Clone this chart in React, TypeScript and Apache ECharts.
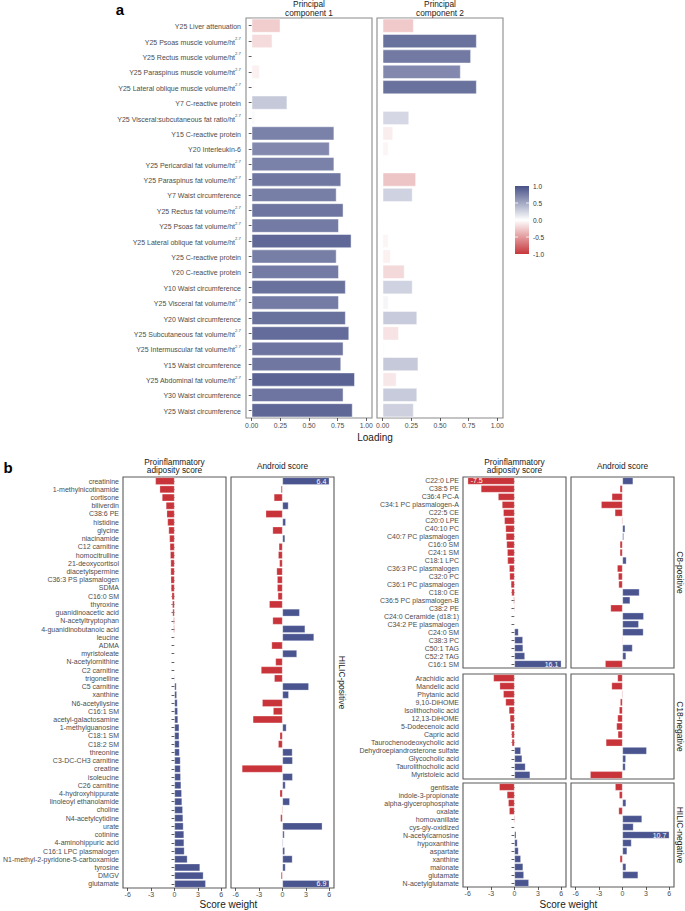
import React, { useEffect, useRef } from "react";
import * as echarts from "echarts";

// ---------- Panel a data ----------
const pcCategories = [
  "Y25 Liver attenuation",
  "Y25 Psoas muscle volume/ht^2.7",
  "Y25 Rectus muscle volume/ht^2.7",
  "Y25 Paraspinus muscle volume/ht^2.7",
  "Y25 Lateral oblique muscle volume/ht^2.7",
  "Y7 C-reactive protein",
  "Y25 Visceral:subcutaneous fat ratio/ht^2.7",
  "Y15 C-reactive protein",
  "Y20 Interleukin-6",
  "Y25 Pericardial fat volume/ht^2.7",
  "Y25 Paraspinus fat volume/ht^2.7",
  "Y7 Waist circumference",
  "Y25 Rectus fat volume/ht^2.7",
  "Y25 Psoas fat volume/ht^2.7",
  "Y25 Lateral oblique fat volume/ht^2.7",
  "Y25 C-reactive protein",
  "Y20 C-reactive protein",
  "Y10 Waist circumference",
  "Y25 Visceral fat volume/ht^2.7",
  "Y20 Waist circumference",
  "Y25 Subcutaneous fat volume/ht^2.7",
  "Y25 Intermuscular fat volume/ht^2.7",
  "Y15 Waist circumference",
  "Y25 Abdominal fat volume/ht^2.7",
  "Y30 Waist circumference",
  "Y25 Waist circumference",
];
const pc1Loadings = [-0.25, -0.18, -0.01, -0.07, -0.02, 0.31, 0.03, 0.72, 0.68, 0.72, 0.78, 0.74, 0.8, 0.76, 0.87, 0.74, 0.76, 0.82, 0.76, 0.82, 0.85, 0.8, 0.78, 0.9, 0.8, 0.88];
const pc2Loadings = [-0.27, 0.82, 0.77, 0.68, 0.82, 0.005, 0.23, -0.09, -0.05, 0.01, -0.29, 0.26, 0.005, 0.01, -0.05, -0.07, -0.19, 0.26, 0.05, 0.3, -0.14, 0.02, 0.31, -0.12, 0.3, 0.27];
const loadingTicks = [0, 0.25, 0.5, 0.75, 1];
const legendTicks = [1.0, 0.5, 0.0, -0.5, -1.0];

// ---------- Panel b data ----------
const scoreTicks = [-6, -3, 0, 3, 6];

const hilicPosNames = [
  "creatinine", "1-methylnicotinamide", "cortisone", "biliverdin", "C38:6 PE", "histidine", "glycine", "niacinamide",
  "C12 carnitine", "homocitrulline", "21-deoxycortisol", "diacetylspermine", "C36:3 PS plasmalogen", "SDMA", "C16:0 SM",
  "thyroxine", "guanidinoacetic acid", "N-acetyltryptophan", "4-guanidinobutanoic acid", "leucine", "ADMA", "myristoleate",
  "N-acetylornithine", "C2 carnitine", "trigonelline", "C5 carnitine", "xanthine", "N6-acetyllysine", "C16:1 SM",
  "acetyl-galactosamine", "1-methylguanosine", "C18:1 SM", "C18:2 SM", "threonine", "C3-DC-CH3 carnitine", "creatine",
  "isoleucine", "C26 carnitine", "4-hydroxyhippurate", "linoleoyl ethanolamide", "choline", "N4-acetylcytidine", "urate",
  "cotinine", "4-aminohippuric acid", "C16:1 LPC plasmalogen", "N1-methyl-2-pyridone-5-carboxamide", "tyrosine", "DMGV", "glutamate",
];
const hilicPosPro = [
  -2.45, -1.9, -1.6, -1.1, -1.0, -0.9, -0.76, -0.65, -0.6, -0.55, -0.5, -0.5, -0.48, -0.45, -0.35, -0.28, -0.25, -0.13,
  -0.12, -0.07, -0.05, -0.03, 0.02, 0.04, 0.08, 0.25, 0.3, 0.38, 0.42, 0.45, 0.6, 0.6, 0.63, 0.65, 0.76, 0.77, 0.8, 0.85,
  0.93, 0.97, 1.06, 1.1, 1.14, 1.22, 1.23, 1.27, 1.65, 3.27, 3.7, 4.0,
];
const hilicPosAnd = [
  6.4, -0.2, -1.1, 0.76, -2.15, 0.42, -1.27, 0.33, -0.47, -0.55, -0.4, -0.76, -0.68, -0.68, -0.6, -1.7, 2.2, -1.27, 2.9,
  4.04, -1.4, 1.85, -0.9, -2.75, -1.06, 3.37, 0.8, -2.6, -1.2, -3.8, 0.5, -0.35, -0.55, 1.27, 1.3, -5.2, 1.3, 0.38, -0.35,
  0.93, -0.1, -0.27, 5.1, 0.25, 0.1, 0.3, 1.27, 0.38, -0.2, 6.9,
];

const c8Names = [
  "C22:0 LPE", "C38:5 PE", "C36:4 PC-A", "C34:1 PC plasmalogen-A", "C22:5 CE", "C20:0 LPE", "C40:10 PC",
  "C40:7 PC plasmalogen", "C16:0 SM", "C24:1 SM", "C18:1 LPC", "C36:3 PC plasmalogen", "C32:0 PC", "C36:1 PC plasmalogen",
  "C18:0 CE", "C36:5 PC plasmalogen-B", "C38:2 PE", "C24:0 Ceramide (d18:1)", "C34:2 PE plasmalogen", "C24:0 SM",
  "C38:3 PC", "C50:1 TAG", "C52:2 TAG", "C16:1 SM",
];
const c8Pro = [-7.5, -4.3, -2.1, -1.6, -1.44, -1.3, -1.15, -1.1, -1.02, -0.93, -0.9, -0.68, -0.63, -0.46, -0.38, -0.12, -0.08, -0.05, -0.03, 0.51, 1.07, 1.1, 1.33, 16.1];
const c8And = [1.36, -0.34, -1.37, -2.73, -0.98, -0.1, 0.34, 0.17, -0.34, -0.34, 0.5, -0.68, -0.55, -0.5, 2.17, 0.98, -1.53, 2.72, 2.08, 2.68, -0.08, 1.28, 0.46, -2.22];

const c18Names = [
  "Arachidic acid", "Mandelic acid", "Phytanic acid", "9,10-DiHOME", "Isolithocholic acid", "12,13-DiHOME",
  "5-Dodecenoic acid", "Capric acid", "Taurochenodeoxycholic acid", "Dehydroepiandrosterone sulfate",
  "Glycocholic acid", "Taurolithocholic acid", "Myristoleic acid",
];
const c18Pro = [-2.7, -1.9, -1.44, -1.15, -0.72, -0.59, -0.5, -0.38, -0.34, 0.81, 0.98, 1.4, 2.0];
const c18And = [-0.64, -1.4, -0.1, -0.3, -0.43, -0.64, -0.77, -0.6, -2.13, 3.1, 0.43, 0.38, -4.14];

const hilicNegNames = [
  "gentisate", "indole-3-propionate", "alpha-glycerophosphate", "oxalate", "homovanillate", "cys-gly-oxidized",
  "N-acetylcarnosine", "hypoxanthine", "aspartate", "xanthine", "malonate", "glutamate", "N-acetylglutamate",
];
const hilicNegPro = [-1.95, -0.97, -0.8, -0.68, -0.1, -0.05, 0.22, 0.38, 0.51, 0.81, 1.1, 1.2, 1.84];
const hilicNegAnd = [-0.94, -0.43, 0.46, -0.5, 2.5, 1.4, 10.7, 1.15, 0.59, -0.34, 0.46, 2.0, -0.05];

// ---------- styles ----------
const FONT = "'Liberation Sans', Arial, Helvetica, sans-serif";
const HIGH = [72, 82, 136];
const LOW = [198, 55, 60];
const RED = "#C8343A";
const BLUE = "#4A5590";
const LABEL_GREY = "#4d4d4d";

function rgb(c: number[]) {
  return `rgb(${Math.round(c[0])},${Math.round(c[1])},${Math.round(c[2])})`;
}
function loadingColor(v: number) {
  const t = Math.min(1, Math.abs(v));
  const end = v >= 0 ? HIGH : LOW;
  return rgb([0, 1, 2].map((i) => 255 + (end[i] - 255) * t));
}

export default function App() {
  const ref = useRef<HTMLDivElement>(null);

  useEffect(() => {
    if (!ref.current) return;
    const chart = echarts.init(ref.current, undefined, { renderer: "svg" });

    const grids: any[] = [];
    const xAxes: any[] = [];
    const yAxes: any[] = [];
    const series: any[] = [];

    // Panel a
    const pcBoxes = [
      { left: 246, top: 18, width: 126, height: 400 },
      { left: 377, top: 18, width: 126, height: 400 },
    ];
    [pc1Loadings, pc2Loadings].forEach((vals, i) => {
      const gi = grids.length;
      grids.push({ ...pcBoxes[i], show: true, borderColor: "#8a8a8a", borderWidth: 1.1, backgroundColor: "transparent", containLabel: false });
      xAxes.push({
        type: "value", gridIndex: gi, min: -0.05, max: 1.05,
        splitLine: { show: false }, axisLine: { show: false },
        axisTick: { show: true, customValues: loadingTicks, length: 3, lineStyle: { color: "#333", width: 0.8 } },
        axisLabel: { show: true, customValues: loadingTicks, formatter: (v: number) => v.toFixed(2), fontSize: 6.8, color: LABEL_GREY, margin: 4, fontFamily: FONT },
      });
      yAxes.push({
        type: "category", gridIndex: gi, data: pcCategories, inverse: true,
        axisLine: { show: false },
        axisTick: { show: i === 0, interval: 0, alignWithLabel: true, length: 3, lineStyle: { color: "#333", width: 0.8 } },
        axisLabel: {
          show: i === 0, interval: 0, margin: 5, fontFamily: FONT, color: LABEL_GREY, fontSize: 7,
          formatter: (v: string) => {
            const p = v.split("^");
            return p.length > 1 ? `{t|${p[0]}}{s|${p[1]}}` : `{t|${v}}`;
          },
          rich: {
            t: { fontSize: 7, color: LABEL_GREY, fontFamily: FONT, lineHeight: 9, verticalAlign: "bottom" },
            s: { fontSize: 4.3, color: LABEL_GREY, fontFamily: FONT, lineHeight: 9, verticalAlign: "top" },
          },
        },
      });
      series.push({
        type: "bar", xAxisIndex: gi, yAxisIndex: gi, barCategoryGap: "10%",
        data: vals.map((v) => ({ value: Math.abs(v), itemStyle: { color: loadingColor(v), borderColor: "rgba(255,255,255,0.8)", borderWidth: 0.6 } })),
      });
    });

    // Panel b
    const bPanels = [
      { names: hilicPosNames, pro: hilicPosPro, and: hilicPosAnd, top: 477, height: 411, lx: [123, 231], xLabels: true },
      { names: c8Names, pro: c8Pro, and: c8And, top: 477, height: 191, lx: [463, 571], xLabels: false },
      { names: c18Names, pro: c18Pro, and: c18And, top: 674, height: 105, lx: [463, 571], xLabels: false },
      { names: hilicNegNames, pro: hilicNegPro, and: hilicNegAnd, top: 783, height: 104, lx: [463, 571], xLabels: true },
    ];
    bPanels.forEach((p) => {
      [p.pro, p.and].forEach((vals, k) => {
        const gi = grids.length;
        grids.push({ left: p.lx[k], top: p.top, width: 103, height: p.height, show: true, borderColor: "#5a5a5a", borderWidth: 1.1, backgroundColor: "transparent", containLabel: false });
        xAxes.push({
          type: "value", gridIndex: gi, min: -6.6, max: 6.6,
          splitLine: { show: false }, axisLine: { show: false },
          axisTick: { show: p.xLabels, customValues: scoreTicks, length: 3, lineStyle: { color: "#333", width: 0.8 } },
          axisLabel: { show: p.xLabels, customValues: scoreTicks, fontSize: 7, color: LABEL_GREY, margin: 3, fontFamily: FONT },
        });
        yAxes.push({
          type: "category", gridIndex: gi, data: p.names, inverse: true,
          axisLine: { show: false },
          axisTick: { show: k === 0, interval: 0, alignWithLabel: true, length: 3, lineStyle: { color: "#333", width: 0.8 } },
          axisLabel: { show: k === 0, interval: 0, margin: 4, fontSize: 7, color: LABEL_GREY, fontFamily: FONT },
        });
        series.push({
          type: "bar", xAxisIndex: gi, yAxisIndex: gi, barCategoryGap: "10%",
          data: vals.map((v) => {
            const capped = Math.max(-6, Math.min(6, v));
            const item: any = {
              value: capped,
              itemStyle: { color: v < 0 ? RED : BLUE, borderColor: "rgba(255,255,255,0.55)", borderWidth: 0.5 },
            };
            if (Math.abs(v) > 6) {
              item.label = {
                show: true, formatter: String(v), position: v > 0 ? "insideRight" : "insideLeft",
                distance: 3, color: "#fff", fontSize: 7, fontFamily: FONT,
              };
            }
            return item;
          }),
        });
      });
    });

    const txt = (text: string, x: number, y: number, o: any = {}) => ({
      type: "text", x, y, rotation: o.rotation || 0,
      style: {
        text, x: 0, y: 0, fill: o.fill || "#1a1a1a", fontSize: o.fontSize || 8.3, fontFamily: FONT,
        fontWeight: o.fontWeight || "normal", align: o.align || "center", verticalAlign: o.verticalAlign || "middle",
        lineHeight: o.lineHeight,
      },
    });

    const legendTop = 186, legendH = 68, legendX = 515, legendW = 14;
    const graphic: any[] = [
      txt("a", 120, 9, { fontSize: 15, fontWeight: "bold", fill: "#000" }),
      txt("Principal\ncomponent 1", 309, 8.5, { lineHeight: 8.3 }),
      txt("Principal\ncomponent 2", 440, 8.5, { lineHeight: 8.3 }),
      txt("Loading", 375, 437, { fontSize: 10 }),
      {
        type: "rect",
        shape: { x: legendX, y: legendTop, width: legendW, height: legendH },
        style: {
          fill: new echarts.graphic.LinearGradient(0, 0, 0, 1, [
            { offset: 0, color: rgb(HIGH) },
            { offset: 0.5, color: "#ffffff" },
            { offset: 1, color: rgb(LOW) },
          ]),
        },
      },
      txt("b", 8, 467, { fontSize: 15, fontWeight: "bold", fill: "#000" }),
      txt("Proinflammatory\nadiposity score", 174.5, 466, { lineHeight: 8.5 }),
      txt("Android score", 282.5, 466),
      txt("Proinflammatory\nadiposity score", 514.5, 466, { lineHeight: 8.5 }),
      txt("Android score", 622.5, 466),
      txt("Score weight", 228.5, 904, { fontSize: 10 }),
      txt("Score weight", 568.5, 904, { fontSize: 10 }),
      txt("HILIC-positive", 342, 682.5, { rotation: -Math.PI / 2, fontSize: 8.5 }),
      txt("C8-positive", 679.5, 572.5, { rotation: -Math.PI / 2, fontSize: 8.5 }),
      txt("C18-negative", 679.5, 726.5, { rotation: -Math.PI / 2, fontSize: 8.5 }),
      txt("HILIC-negative", 679.5, 835, { rotation: -Math.PI / 2, fontSize: 8.5 }),
    ];
    legendTicks.forEach((v) => {
      const y = legendTop + ((1 - v) / 2) * legendH;
      graphic.push(txt(v.toFixed(1), legendX + legendW + 4, y, { align: "left", fontSize: 6.5, fill: "#333" }));
      if (Math.abs(v) < 1) {
        graphic.push({ type: "line", shape: { x1: legendX, y1: y, x2: legendX + 3, y2: y }, style: { stroke: "#fff", lineWidth: 0.8 } });
        graphic.push({ type: "line", shape: { x1: legendX + legendW - 3, y1: y, x2: legendX + legendW, y2: y }, style: { stroke: "#fff", lineWidth: 0.8 } });
      }
    });

    chart.setOption({
      animation: false,
      backgroundColor: "#ffffff",
      textStyle: { fontFamily: FONT },
      grid: grids,
      xAxis: xAxes,
      yAxis: yAxes,
      series,
      graphic,
    });

    return () => chart.dispose();
  }, []);

  return <div ref={ref} style={{ position: "fixed", left: 0, top: 0, width: 685, height: 911 }} />;
}
